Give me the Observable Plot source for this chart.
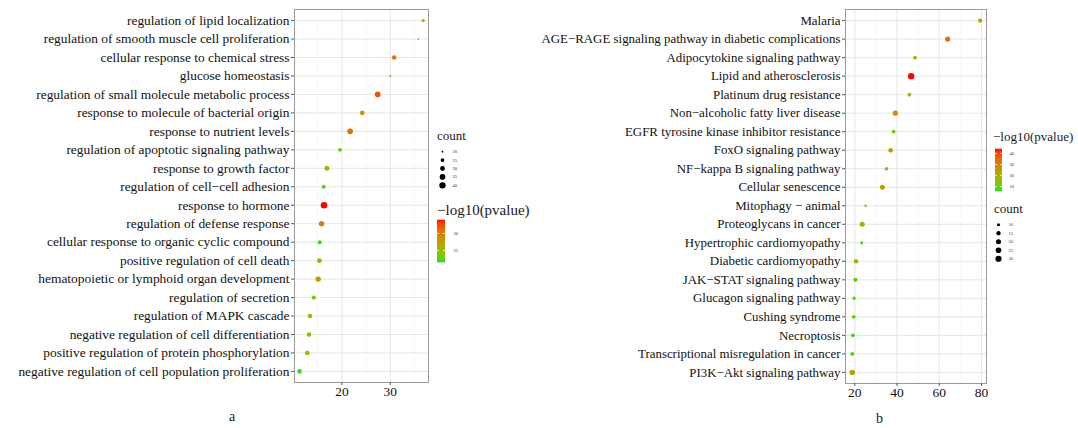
<!DOCTYPE html>
<html>
<head>
<meta charset="utf-8">
<script src="https://cdn.jsdelivr.net/npm/d3@7"></script>
<script src="https://cdn.jsdelivr.net/npm/@observablehq/plot@0.6"></script>
<style>
  html, body { margin: 0; padding: 0; background: #fff; }
  #root { position: relative; width: 1078px; height: 428px; overflow: hidden; font-family: "Liberation Serif", "Times New Roman", serif; color: #1a1a1a; }
  .abs { position: absolute; }
  .abs svg { display: block; overflow: visible; }
  .ttl { position: absolute; white-space: nowrap; line-height: 1; }
</style>
</head>
<body>
<div id="root"></div>
<script>
// ---------- Panel a (GO terms) ----------
const termsA = [
  "regulation of lipid localization",
  "regulation of smooth muscle cell proliferation",
  "cellular response to chemical stress",
  "glucose homeostasis",
  "regulation of small molecule metabolic process",
  "response to molecule of bacterial origin",
  "response to nutrient levels",
  "regulation of apoptotic signaling pathway",
  "response to growth factor",
  "regulation of cell\u2212cell adhesion",
  "response to hormone",
  "regulation of defense response",
  "cellular response to organic cyclic compound",
  "positive regulation of cell death",
  "hematopoietic or lymphoid organ development",
  "regulation of secretion",
  "regulation of MAPK cascade",
  "negative regulation of cell differentiation",
  "positive regulation of protein phosphorylation",
  "negative regulation of cell population proliferation"
];
const valueA = [36.8, 35.8, 30.8, 30.0, 27.4, 24.2, 21.7, 19.6, 16.9, 16.25, 16.3, 15.8, 15.4, 15.35, 15.1, 14.2, 13.4, 13.2, 12.85, 11.25];
const countA = [23, 20, 29, 20, 35, 29, 35, 25, 31, 26, 42, 33, 26, 29, 33, 27, 29, 29, 29, 29];
const pvalA  = [26.7, 23.3, 30.1, 22.1, 32.0, 27.7, 30.7, 22.1, 24.6, 22.0, 33.8, 29.9, 21.9, 27.0, 28.3, 23.3, 24.2, 24.0, 24.4, 21.9];
const xTicksA = [20, 30];
const xMinorA = [15, 25, 35];
const countBreaksA = [20, 25, 30, 35, 40];
const pBreaksA = [25, 30];

// ---------- Panel b (KEGG pathways) ----------
const termsB = [
  "Malaria",
  "AGE\u2212RAGE signaling pathway in diabetic complications",
  "Adipocytokine signaling pathway",
  "Lipid and atherosclerosis",
  "Platinum drug resistance",
  "Non\u2212alcoholic fatty liver disease",
  "EGFR tyrosine kinase inhibitor resistance",
  "FoxO signaling pathway",
  "NF\u2212kappa B signaling pathway",
  "Cellular senescence",
  "Mitophagy \u2212 animal",
  "Proteoglycans in cancer",
  "Hypertrophic cardiomyopathy",
  "Diabetic cardiomyopathy",
  "JAK\u2212STAT signaling pathway",
  "Glucagon signaling pathway",
  "Cushing syndrome",
  "Necroptosis",
  "Transcriptional misregulation in cancer",
  "PI3K\u2212Akt signaling pathway"
];
const valueB = [79.4, 64.0, 48.5, 46.7, 45.9, 39.2, 38.4, 37.0, 35.0, 33.1, 25.1, 23.5, 23.3, 20.6, 20.3, 19.7, 19.5, 19.1, 18.8, 18.8];
const countB = [15, 21, 12, 32, 12, 21, 12, 17, 12, 20, 8.3, 20, 10, 17, 15, 11, 13, 13, 13, 23];
const pvalB  = [22.6, 34.0, 13.9, 43.6, 13.5, 26.5, 12.4, 22.6, 13.1, 23.4, 7.4, 20.7, 7.8, 15.0, 11.2, 7.4, 8.5, 7.0, 7.0, 23.8];
const xTicksB = [20, 40, 60, 80];
const xMinorB = [30, 50, 70];
const countBreaksB = [10, 15, 20, 25, 30];
const pBreaksB = [10, 20, 30, 40];

// ---------- helpers ----------
const FONT = "Liberation Serif, Times New Roman, serif";
const root = document.getElementById("root");
function place(node, left, top) {
  const d = document.createElement("div");
  d.className = "abs";
  d.style.left = left + "px";
  d.style.top = top + "px";
  d.appendChild(node);
  root.appendChild(d);
}
function title(text, left, top, size) {
  const d = document.createElement("div");
  d.className = "ttl";
  d.style.left = left + "px";
  d.style.top = top + "px";
  d.style.fontSize = size + "px";
  d.textContent = text;
  root.appendChild(d);
}
// ggplot-like area scale: r = rmin + (rmax - rmin) * sqrt((c - cmin)/(cmax - cmin))
function rScale(cmin, cmax, rmin, rmax) {
  return {type: "linear", transform: c => Math.sqrt(Math.max(0, c - cmin)), domain: [0, Math.sqrt(cmax - cmin)], range: [rmin, rmax], clamp: true};
}
function colorScale(pmin, pmax) {
  return {type: "linear", domain: [pmin, pmax], range: ["#10e010", "#ff0000"], interpolate: "lab", clamp: true};
}

function panel(terms, values, counts, pvals, xdom, xticks, xminor, rOpts, cOpts, geom) {
  const rows = terms.map((t, i) => ({term: t, v: values[i], count: counts[i], p: pvals[i]}));
  return Plot.plot({
    width: geom.width, height: geom.height,
    marginLeft: geom.ml, marginRight: geom.mr, marginTop: geom.mt, marginBottom: geom.mb,
    style: {fontFamily: FONT, background: "transparent", color: "#1a1a1a"},
    x: {domain: xdom, label: null},
    y: {type: "point", domain: terms, padding: 0.6, round: false, label: null},
    r: rOpts,
    color: cOpts,
    marks: [
      Plot.ruleX(xminor, {stroke: "#f1f1f1", strokeWidth: 0.6}),
      Plot.ruleX(xticks, {stroke: "#e6e6e6", strokeWidth: 1}),
      Plot.ruleY(terms, {stroke: "#e6e6e6", strokeWidth: 1}),
      Plot.dot(rows, {x: "v", y: "term", r: "count", fill: "p"}),
      Plot.frame({stroke: "#9a9a9a", strokeWidth: 1}),
      Plot.axisY({tickSize: 3, tickPadding: 2, fontSize: geom.yfs, label: null, stroke: "#555", fill: "#111"}),
      Plot.axisX({ticks: xticks, tickSize: 3, tickPadding: 1, fontSize: 13.5, label: null, tickFormat: d => d, stroke: "#555", fill: "#111"})
    ]
  });
}

function sizeLegend(breaks, rOpts, step) {
  return Plot.plot({
    width: 40, height: step * breaks.length,
    margin: 0,
    style: {fontFamily: FONT, background: "transparent"},
    y: {type: "point", domain: breaks, padding: 0.5, round: false, axis: null},
    r: rOpts,
    marks: [
      Plot.dot(breaks, {y: d => d, r: d => d, fill: "black", frameAnchor: "left", dx: 6}),
      Plot.text(breaks, {y: d => d, text: d => String(d), frameAnchor: "left", dx: 16, textAnchor: "start", fontSize: 4.5, fill: "#333"})
    ]
  });
}

function colorLegend(breaks, cOpts, barW, barH, pad) {
  const [lo, hi] = cOpts.domain;
  const n = 60;
  const stripes = d3.range(n).map(i => ({y1: lo + (hi - lo) * i / n, y2: lo + (hi - lo) * (i + 1) / n, c: lo + (hi - lo) * (i + 0.5) / n}));
  return Plot.plot({
    width: barW + 30, height: barH,
    marginLeft: 0, marginTop: 0, marginBottom: 0, marginRight: 30,
    style: {fontFamily: FONT, background: "transparent"},
    y: {domain: [lo, hi], axis: null},
    color: cOpts,
    marks: [
      Plot.rect(stripes, {y1: "y1", y2: "y2", fill: "c", inset: 0, insetTop: -0.3, insetBottom: -0.3}),
      Plot.tickY(breaks, {y: d => d, stroke: "white", strokeWidth: 0.8, insetRight: barW * 0.75}),
      Plot.tickY(breaks, {y: d => d, stroke: "white", strokeWidth: 0.8, insetLeft: barW * 0.75}),
      Plot.text(breaks, {y: d => d, text: d => String(d), frameAnchor: "right", dx: pad, textAnchor: "start", fontSize: 4.5, fill: "#333"})
    ]
  });
}

// ---------- build panel a ----------
const rA = rScale(19.5, 42, 0.5, 3.3);
const cA = colorScale(21.5, 33.8);
place(panel(termsA, valueA, countA, pvalA, [10.2, 37.9], xTicksA, xMinorA, rA, cA,
  {width: 440, height: 400, ml: 294, mr: 12, mt: 9, mb: 18, yfs: 13.4}), 0, 0);
title("count", 437, 129, 13);
place(sizeLegend(countBreaksA, rA, 8.4), 436, 147);
title("\u2212log10(pvalue)", 437, 203, 15);
place(colorLegend(pBreaksA, cA, 8, 42, 8), 437, 220);
title("a", 229, 410, 14);

// ---------- build panel b ----------
const rB = rScale(8, 32, 0.9, 3.2);
const cB = colorScale(5.5, 43.6);
place(panel(termsB, valueB, countB, pvalB, [15.6, 82.4], xTicksB, xMinorB, rB, cB,
  {width: 490, height: 400, ml: 345, mr: 4, mt: 9, mb: 17, yfs: 12.9}), 500, 0);
title("\u2212log10(pvalue)", 993, 130, 13);
place(colorLegend(pBreaksB, cB, 7, 42, 7), 995, 149);
title("count", 994, 202, 13);
place(sizeLegend(countBreaksB, rB, 8.5), 992, 220);
title("b", 876, 412, 14);
</script>
</body>
</html>
